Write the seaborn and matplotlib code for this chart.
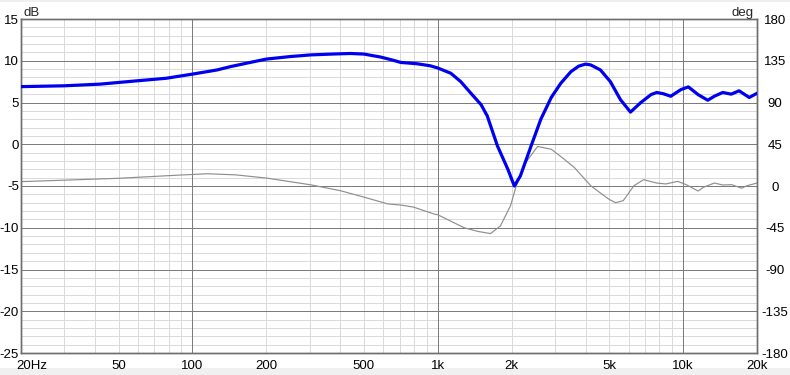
import matplotlib
matplotlib.use("Agg")
import matplotlib.pyplot as plt
from matplotlib.patches import Rectangle
from matplotlib.ticker import NullLocator
from matplotlib.transforms import ScaledTranslation
import seaborn as sns

# ---- data ----
freq_mag = [20, 30, 42, 57, 78, 100, 126, 143, 172, 200, 250, 303, 370, 440, 500,
            585, 650, 706, 823, 930, 1000, 1130, 1240, 1360, 1500, 1590, 1750, 1930,
            2050, 2170, 2400, 2630, 2900, 3170, 3490, 3750, 4000, 4200, 4600, 5050,
            5550, 6100, 6700, 7400, 7800, 8300, 8900, 9800, 10500, 11500, 12600,
            13400, 14500, 15700, 16900, 18600, 20000]
mag_db = [6.9, 7.0, 7.2, 7.55, 7.9, 8.4, 8.9, 9.3, 9.8, 10.2, 10.5, 10.7, 10.8, 10.87,
          10.8, 10.44, 10.1, 9.8, 9.64, 9.4, 9.13, 8.5, 7.5, 6.15, 4.75, 3.4, -0.2,
          -3.0, -5.0, -3.8, -0.2, 3.0, 5.6, 7.3, 8.7, 9.35, 9.6, 9.5, 8.9, 7.5, 5.35,
          3.85, 4.96, 5.95, 6.2, 6.05, 5.75, 6.55, 6.87, 5.95, 5.27, 5.75, 6.2, 6.0,
          6.4, 5.6, 6.1]

freq_ph = [20, 50, 89, 115, 150, 201, 303, 400, 500, 625, 706, 795, 960, 1000, 1280,
           1460, 1640, 1800, 1980, 2080, 2250, 2550, 2900, 3200, 3600, 4200, 4750,
           5000, 5300, 5700, 6300, 6900, 7800, 8500, 9500, 10300, 11500, 12100,
           13400, 14500, 15800, 17300, 18200, 20000]
phase_deg = [4.7, 8.3, 11.8, 13.2, 12.0, 8.5, 1.3, -5.0, -12.0, -19.3, -20.5, -22.7,
             -30.0, -31.0, -45.0, -49.0, -51.3, -43.0, -21.0, -1.4, 23.0, 42.6, 39.6,
             31.0, 20.0, 0.3, -10.3, -14.5, -18.0, -15.8, 0.3, 6.8, 3.2, 2.2, 5.0, 1.4,
             -5.4, -1.4, 3.2, 1.1, 1.4, -2.4, 0.3, 3.2]

x_ticks = [20, 50, 100, 200, 500, 1000, 2000, 5000, 10000, 20000]
x_labels = ["20Hz", "50", "100", "200", "500", "1k", "2k", "5k", "10k", "20k"]
db_ticks = [-25, -20, -15, -10, -5, 0, 5, 10, 15]
deg_ticks = [-180, -135, -90, -45, 0, 45, 90, 135, 180]

# ---- style ----
sns.set_theme(style="white")
plt.rcParams["font.family"] = ["Liberation Sans", "DejaVu Sans"]

W, H = 790, 375
fig = plt.figure(figsize=(W / 100, H / 100), dpi=100)
fig.patch.set_facecolor("white")

rect = [21 / W, (H - 353) / H, 736 / W, 334 / H]
ax = fig.add_axes(rect)
ax2 = ax.twinx()
ax.set_zorder(2)
ax2.set_zorder(1)
ax.patch.set_visible(False)
ax2.patch.set_facecolor("white")

ax.set_xscale("log")
ax.set_xlim(20, 20000)
ax.set_ylim(-25, 15)
ax2.set_ylim(-180, 180)

minor_c = "#dadada"
major_c = "#7c7c7c"
px = 0.72
# vertical grid (drawn on the background axes)
for dec in [10, 100, 1000, 10000]:
    for m in range(1, 10):
        f = dec * m
        if f <= 20 or f >= 20000:
            continue
        if m == 1:
            ax2.axvline(f, color=major_c, lw=px, zorder=1)
        else:
            ax2.axvline(f, color=minor_c, lw=px, zorder=0.5)
# horizontal grid: 1 dB steps (1 dB == 9 deg)
for d in range(-24, 15):
    deg = (d + 5) * 9
    if d % 5 == 0:
        ax2.axhline(deg, color=major_c, lw=px, zorder=1)
    else:
        ax2.axhline(deg, color=minor_c, lw=px, zorder=0.5)

sns.lineplot(x=freq_ph, y=phase_deg, ax=ax2, color="#8e8e8e", lw=0.85, zorder=3,
             sort=False)
sns.lineplot(x=freq_mag, y=mag_db, ax=ax, color="#0000f0", lw=2.3, zorder=3,
             sort=False)
ax.set_xscale("log")
ax.set_xlim(20, 20000)

ax.set_xticks(x_ticks)
ax.set_xticklabels(x_labels)
ax.xaxis.set_minor_locator(NullLocator())
ax2.xaxis.set_minor_locator(NullLocator())
ax.set_yticks(db_ticks)
ax.set_yticklabels([str(v) for v in db_ticks])
ax2.set_yticks(deg_ticks)
ax2.set_yticklabels([str(v) for v in deg_ticks])
ax.set_xlabel("")
ax.set_ylabel("")
ax2.set_ylabel("")

ax.tick_params(axis="x", length=0, pad=5, labelsize=9.5, colors="black")
ax.tick_params(axis="y", length=0, pad=1.5, labelsize=9.5, colors="black")
ax2.tick_params(axis="y", length=0, pad=13, labelsize=9.5, colors="black")
for lbl in ax2.get_yticklabels():
    lbl.set_horizontalalignment("center")

first = ax.get_xticklabels()[0]
first.set_horizontalalignment("left")
first.set_transform(first.get_transform() +
                    ScaledTranslation(-5 / 100, 0, fig.dpi_scale_trans))

for a in (ax, ax2):
    for s in a.spines.values():
        s.set_color("#6e6e6e")
        s.set_linewidth(1.0)

fig.text(23 / W, 1 - 16 / H, "dB", ha="left", va="baseline", fontsize=9.5)
fig.text(754 / W, 1 - 16 / H, "deg", ha="right", va="baseline", fontsize=9.5)

# window bands
fig.patches.append(Rectangle((0, 0), 1, 7 / H, transform=fig.transFigure,
                             facecolor="#f0f0f0", edgecolor="none", zorder=-1))
fig.patches.append(Rectangle((0, 1 - 2 / H), 1, 2 / H, transform=fig.transFigure,
                             facecolor="#f0f0f0", edgecolor="none", zorder=-1))

fig.savefig("out.png", dpi=100)
